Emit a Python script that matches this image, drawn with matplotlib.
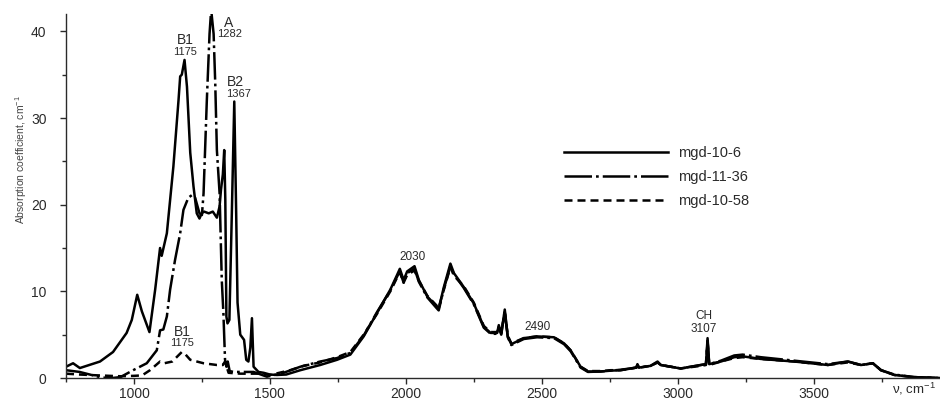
import matplotlib
matplotlib.use("Agg")
import matplotlib.pyplot as plt
from matplotlib.ticker import MultipleLocator

plt.rcParams['font.family'] = ['Liberation Sans', 'DejaVu Sans']
plt.rcParams['mathtext.default'] = 'regular'

# wavenumber (cm-1) and absorption (cm-1)
nu_106 = [750, 776, 801, 875, 923, 973, 992, 1012, 1029, 1057, 1078, 1096, 1102, 1121,
          1145, 1164, 1170, 1176, 1186, 1195, 1207, 1219, 1231, 1241, 1249, 1258, 1275,
          1290, 1305, 1315, 1320, 1327, 1332, 1336, 1340, 1344, 1351, 1360, 1369, 1376,
          1381, 1391, 1405, 1413, 1421, 1428, 1434, 1440, 1458, 1477, 1500, 1526, 1560,
          1612, 1685]
val_106 = [1.3, 1.7, 1.15, 1.9, 3.0, 5.2, 6.7, 9.6, 7.7, 5.3, 10.2, 15.0, 14.1, 16.7,
           24.4, 32.1, 34.8, 35.0, 36.7, 33.6, 26.0, 22.1, 19.0, 18.4, 19.0, 19.2, 19.0,
           19.2, 18.5, 19.8, 21.7, 23.5, 26.3, 20.6, 7.1, 6.3, 6.7, 19.0, 31.9, 19.0,
           8.7, 5.0, 4.4, 2.1, 1.9, 3.5, 6.9, 1.3, 0.7, 0.6, 0.4, 0.35, 0.4,
           0.9, 1.5]

nu_1136 = [750, 800, 850, 880, 920, 950, 997, 1047, 1084, 1096, 1108, 1121, 1133, 1151,
           1170, 1182, 1200, 1213, 1225, 1241, 1250, 1256, 1268, 1278, 1284, 1293, 1299,
           1305, 1315, 1323, 1329, 1335, 1340, 1345, 1352, 1367, 1440, 1489, 1550, 1612,
           1685]
val_1136 = [0.9, 0.7, 0.3, 0.05, 0.0, 0.1, 0.9, 1.7, 3.2, 5.5, 5.6, 7.1, 10.2, 13.6,
            16.7, 19.4, 20.8, 21.1, 20.8, 19.0, 18.8, 21.3, 32.0, 39.7, 42.5, 39.7, 34.0,
            26.3, 21.3, 11.3, 7.5, 2.1, 1.3, 1.9, 0.8, 0.7, 0.7, 0.15, 0.6, 1.3,
            1.9]

nu_1058 = [750, 800, 870, 950, 1000, 1030, 1059, 1096, 1111, 1141, 1160, 1176, 1190, 1207,
           1256, 1305, 1327, 1335, 1348, 1391, 1464, 1501, 1575, 1624, 1685]
val_1058 = [0.5, 0.4, 0.3, 0.2, 0.25, 0.3, 0.9, 1.9, 1.7, 1.9, 2.5, 3.0, 2.7, 2.1,
            1.7, 1.5, 1.5, 1.9, 0.6, 0.5, 0.5, 0.35, 0.9, 1.4, 1.8]

# the three spectra nearly coincide above 1700 cm-1
nu_mid = [1747, 1796, 1845, 1894, 1943, 1968, 1978, 1992, 2005, 2032, 2048, 2079, 2115,
          2121, 2140, 2164, 2177, 2213, 2250, 2287, 2312, 2336, 2342, 2351, 2364, 2375,
          2388, 2434, 2483, 2545, 2582, 2606, 2643, 2670, 2717, 2754, 2790, 2848, 2852,
          2858, 2900, 2926, 2938, 3011, 3085, 3104, 3110, 3116, 3159, 3208, 3239, 3306,
          3429, 3552, 3626, 3675, 3718, 3748, 3797, 3871, 3965]
mid_106 = [2.1, 2.7, 4.8, 7.5, 10.2, 11.9, 12.6, 11.3, 12.3, 12.9, 11.3, 9.4, 8.2,
           8.0, 10.5, 13.2, 12.1, 10.5, 8.6, 5.9, 5.2, 5.2, 6.1, 5.1, 7.9, 4.8,
           3.9, 4.6, 4.8, 4.7, 4.0, 3.2, 1.3, 0.75, 0.75, 0.85, 0.9, 1.2, 1.6,
           1.2, 1.4, 1.9, 1.5, 1.1, 1.5, 1.6, 4.6, 1.6, 1.9, 2.4, 2.5, 2.2,
           1.9, 1.5, 1.9, 1.5, 1.7, 0.9, 0.35, 0.1, 0.0]
mid_1136 = [2.3, 2.9, 4.9, 7.6, 10.1, 11.7, 12.3, 11.0, 12.1, 12.6, 11.1, 9.3, 8.0,
            7.8, 10.3, 12.9, 12.0, 10.4, 8.5, 5.8, 5.1, 5.1, 5.9, 5.0, 7.7, 4.7,
            3.8, 4.5, 4.7, 4.6, 3.9, 3.1, 1.2, 0.7, 0.75, 0.85, 0.95, 1.2, 1.5,
            1.2, 1.4, 1.8, 1.5, 1.1, 1.5, 1.6, 4.3, 1.6, 2.0, 2.6, 2.7, 2.4,
            2.0, 1.6, 1.9, 1.5, 1.7, 0.9, 0.4, 0.1, 0.0]
mid_1058 = [2.4, 3.0, 5.0, 7.4, 10.0, 11.6, 12.2, 11.0, 11.9, 12.4, 11.2, 9.5, 8.3,
            8.1, 10.2, 12.8, 11.8, 10.6, 8.7, 6.0, 5.3, 5.3, 5.9, 5.2, 7.6, 4.9,
            4.0, 4.6, 4.8, 4.7, 4.0, 3.2, 1.3, 0.8, 0.8, 0.9, 0.9, 1.2, 1.5,
            1.2, 1.4, 1.8, 1.5, 1.1, 1.4, 1.5, 4.2, 1.5, 1.9, 2.3, 2.4, 2.2,
            1.9, 1.5, 1.8, 1.5, 1.7, 0.9, 0.35, 0.1, 0.0]

labels = ['mgd-10-6', 'mgd-11-36', 'mgd-10-58']

# peak labels: text, wavenumber, height, fontsize
peak_text = ['B1', '1175', 'A', '1282', 'B2', '1367', 'B1', '1175', '2030', '2490', 'CH', '3107']
peak_nu = [1188, 1188, 1349, 1353, 1375, 1383, 1177, 1177, 2023, 2486, 3096, 3096]
peak_y = [39.0, 37.6, 41.0, 39.7, 34.2, 32.8, 5.3, 4.0, 14.0, 5.9, 7.15, 5.65]
peak_fs = [10, 8, 10, 8, 10, 8, 10, 8, 8.5, 8.5, 8.5, 8.5]

fig = plt.figure(figsize=(9.4, 4.01), dpi=100)
ax = fig.add_axes([66 / 940, 23 / 401, 874 / 940, 364 / 401])

txt = '#2a2a2a'
lw = 1.8
ax.plot(nu_106 + nu_mid, val_106 + mid_106, color='black', lw=lw, ls='-', label=labels[0])
ax.plot(nu_1136 + nu_mid, val_1136 + mid_1136, color='black', lw=lw,
        ls=(0, (11, 1.6, 1.1, 1.6)), label=labels[1])
ax.plot(nu_1058 + nu_mid, val_1058 + mid_1058, color='black', lw=lw,
        ls=(0, (3.2, 2.0)), label=labels[2])

for t, x, y, fs in zip(peak_text, peak_nu, peak_y, peak_fs):
    ax.text(x, y, t, ha='center', va='center', fontsize=fs, color=txt)

ax.set_xlim(750, 3965)
ax.set_ylim(0, 42)
ax.xaxis.set_major_locator(MultipleLocator(500))
ax.xaxis.set_minor_locator(MultipleLocator(250))
ax.yaxis.set_major_locator(MultipleLocator(10))
ax.yaxis.set_minor_locator(MultipleLocator(5))
ax.tick_params(which='both', direction='out', color=txt, width=1)
ax.tick_params(which='major', length=4, labelsize=10, labelcolor=txt)
ax.tick_params(which='minor', length=3)
ax.tick_params(axis='y', pad=10)
ax.tick_params(axis='x', pad=2.5)
for s in ['top', 'right']:
    ax.spines[s].set_visible(False)
for s in ['left', 'bottom']:
    ax.spines[s].set_color(txt)
    ax.spines[s].set_linewidth(1)

fig.text(21 / 940, 1 - 160 / 401, 'Absorption coefficient, cm$^{-1}$', rotation=90,
         ha='center', va='center', fontsize=7.5, color='#444444')
fig.text(936 / 940, 1 - 389 / 401, 'ν, cm$^{-1}$', ha='right', va='center',
         fontsize=9.5, color=txt)

leg = ax.legend(loc='upper left', bbox_to_anchor=(564 / 940, 1 - 146 / 401),
                bbox_transform=fig.transFigure, frameon=False, fontsize=10.5,
                handlelength=7.1, handletextpad=0.75, labelspacing=0.68,
                borderpad=0, borderaxespad=0)
for t in leg.get_texts():
    t.set_color(txt)

fig.savefig('out.png', dpi=100)
